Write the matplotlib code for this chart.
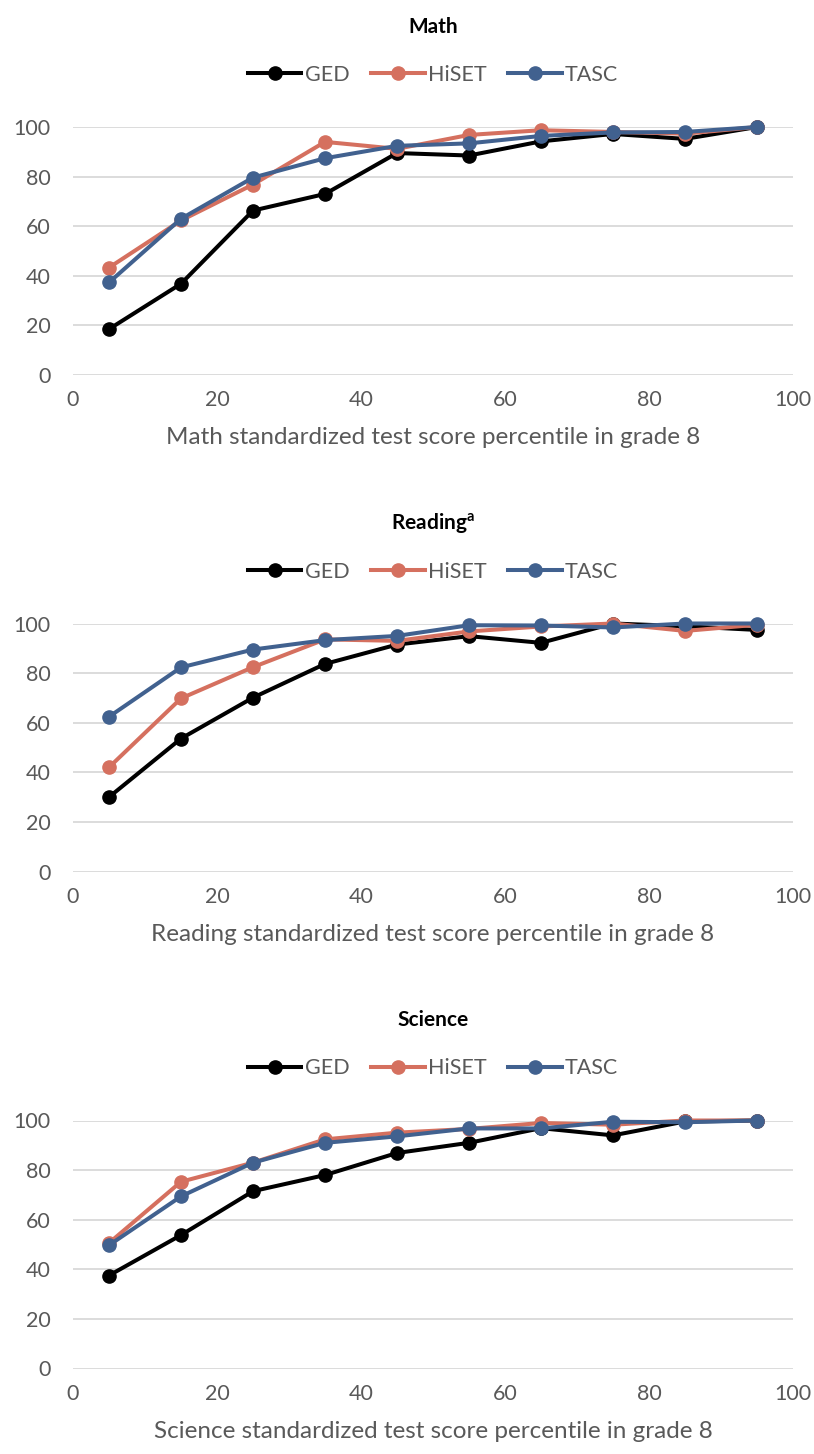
import matplotlib
matplotlib.use("Agg")
import matplotlib.pyplot as plt

plt.rcParams['font.family'] = ['Lato', 'DejaVu Sans']
plt.rcParams['mathtext.fontset'] = 'custom'
plt.rcParams['mathtext.rm'] = 'Lato'
plt.rcParams['mathtext.bf'] = 'Lato:bold'

# percentile bins (midpoints)
pct = [5, 15, 25, 35, 45, 55, 65, 75, 85, 95]

math_ged = [18.5, 36.8, 66.3, 73.0, 89.5, 88.5, 94.2, 97.2, 95.2, 100]
math_hiset = [43.3, 62.3, 76.8, 94.0, 91.2, 96.8, 98.7, 98.0, 97.3, 100]
math_tasc = [37.3, 63.0, 79.6, 87.4, 92.4, 93.4, 96.4, 97.8, 98.0, 100]

read_ged = [30.0, 53.6, 70.1, 83.7, 91.5, 94.9, 92.2, 100, 98.9, 97.4]
read_hiset = [42.0, 69.8, 82.4, 93.6, 93.0, 96.8, 98.8, 100, 97.0, 99.5]
read_tasc = [62.4, 82.3, 89.5, 93.3, 95.0, 99.3, 99.2, 98.4, 100, 100]

sci_ged = [37.5, 53.8, 71.5, 78.0, 86.9, 91.0, 96.9, 94.0, 99.6, 100]
sci_hiset = [50.6, 75.3, 83.0, 92.4, 95.1, 96.6, 99.0, 98.3, 100, 100]
sci_tasc = [49.7, 69.4, 83.0, 91.0, 93.6, 96.8, 96.8, 99.5, 99.3, 100]

titles = ["Math", r"Reading$^{\mathbf{a}}$", "Science"]
xlabels = ["Math standardized test score percentile in grade 8",
           "Reading standardized test score percentile in grade 8",
           "Science standardized test score percentile in grade 8"]
series_names = ["GED", "HiSET", "TASC"]
colors = ["#000000", "#D5705F", "#41618F"]

panels = [(math_ged, math_hiset, math_tasc),
          (read_ged, read_hiset, read_tasc),
          (sci_ged, sci_hiset, sci_tasc)]

W, H = 814, 1454
fig = plt.figure(figsize=(W / 100, H / 100), dpi=100)

# pixel rows of y=0 in each panel
bottoms = [375, 871.5, 1368.5]
ax_h = 248
left, right = 73, 793
text_col = "#595959"

for i in range(3):
    b = bottoms[i]
    ax = fig.add_axes([left / W, 1 - b / H, (right - left) / W, ax_h / H])
    for vals, name, c in zip(panels[i], series_names, colors):
        ax.plot(pct, vals, color=c, lw=2.9, marker='o', markersize=9.5,
                label=name, clip_on=False, zorder=3)
    ax.set_xlim(0, 100)
    ax.set_ylim(0, 100)
    ax.set_xticks(range(0, 101, 20))
    ax.set_yticks(range(0, 101, 20))
    ax.grid(axis='y', color="#D9D9D9", lw=1.3, zorder=0)
    for s in ax.spines.values():
        s.set_visible(False)
    ax.tick_params(length=0, labelsize=15.5, labelcolor=text_col)
    ax.tick_params(axis='x', pad=11)
    ax.tick_params(axis='y', pad=16)

    ax.text(0.5, -63 / ax_h, xlabels[i], transform=ax.transAxes,
            ha='center', va='center', fontsize=17.5, color=text_col)

    # title and legend
    ax.text(0.5, 1 + 100 / ax_h, titles[i], transform=ax.transAxes,
            ha='center', va='center', fontsize=15, fontweight='bold',
            color='black')

    leg = ax.legend(loc='center', bbox_to_anchor=(0.5, 1 + 52 / ax_h),
                    ncol=3, frameon=False, fontsize=15.5,
                    handlelength=2.5, columnspacing=1.0, handletextpad=0.15,
                    borderaxespad=0)
    for txt in leg.get_texts():
        txt.set_color(text_col)

fig.savefig("out.png", dpi=100)
